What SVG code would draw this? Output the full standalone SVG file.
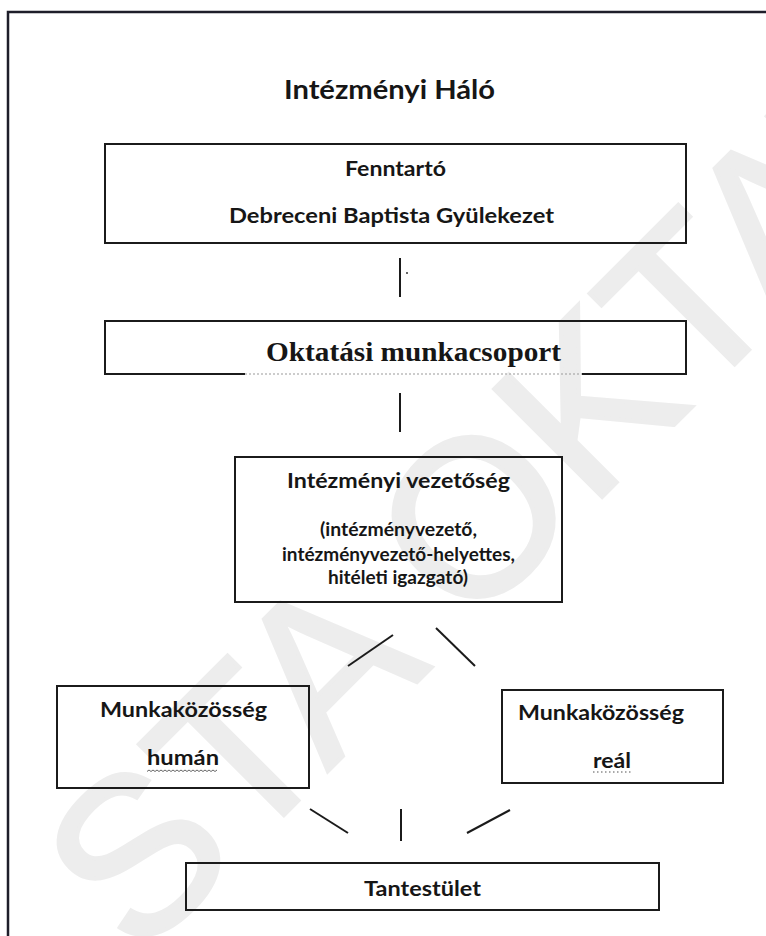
<svg xmlns="http://www.w3.org/2000/svg" width="766" height="936" viewBox="0 0 766 936">
<style>
.bg{fill:#ffffff}
.frame{fill:none;stroke:#1e1e2a;stroke-width:2.5}
.box{fill:none;stroke:#1b1b1b;stroke-width:2}
.edge{stroke:#1b1b1b;stroke-width:2;stroke-linecap:butt}
.t{font-family:Lato,"Liberation Sans",sans-serif;font-weight:700;fill:#161616}
.serif{font-family:"Liberation Serif",serif;font-weight:700;fill:#161616}
.wm{font-family:"Liberation Sans",Arial,sans-serif;font-weight:400;fill:#ededed;stroke:#ededed;stroke-width:4}
</style>
<rect class="bg" x="0" y="0" width="766" height="936"/>
<g id="watermark">
<text class="wm" font-size="222" transform="translate(138.5 960.5) rotate(-45)">STA OKTATA</text>
</g>
<path class="frame" d="M8 936 V12 H766"/>
<g id="title">
<text class="t" x="284" y="99" font-size="26" textLength="211" lengthAdjust="spacingAndGlyphs">Intézményi Háló</text>
</g>
<g id="fenntarto">
<rect class="box" x="105" y="144" width="581" height="99"/>
<text class="t" x="345" y="176" font-size="21.5" textLength="101" lengthAdjust="spacingAndGlyphs">Fenntartó</text>
<text class="t" x="229" y="223" font-size="21.5" textLength="325" lengthAdjust="spacingAndGlyphs">Debreceni Baptista Gyülekezet</text>
</g>
<g id="oktatasi">
<path class="box" d="M245 374 H105 V321 H686 V374 H582"/>
<line x1="245" y1="374" x2="582" y2="374" stroke="#9a9a9a" stroke-width="1.2" stroke-dasharray="2 2"/>
<text class="serif" x="266" y="361" font-size="27" textLength="295" lengthAdjust="spacingAndGlyphs">Oktatási munkacsoport</text>
</g>
<g id="vezetoseg">
<rect class="box" x="235" y="457" width="327" height="145"/>
<text class="t" x="287" y="488" font-size="21.5" textLength="223" lengthAdjust="spacingAndGlyphs">Intézményi vezetőség</text>
<text class="t" x="320" y="536" font-size="18" textLength="157" lengthAdjust="spacingAndGlyphs">(intézményvezető,</text>
<text class="t" x="282" y="561" font-size="18" textLength="233" lengthAdjust="spacingAndGlyphs">intézményvezető-helyettes,</text>
<text class="t" x="328" y="584" font-size="18" textLength="140" lengthAdjust="spacingAndGlyphs">hitéleti igazgató)</text>
</g>
<g id="human">
<rect class="box" x="57" y="686" width="252" height="102"/>
<text class="t" x="100" y="717" font-size="21.5" textLength="167" lengthAdjust="spacingAndGlyphs">Munkaközösség</text>
<text class="t" x="147" y="765" font-size="21.5" textLength="72" lengthAdjust="spacingAndGlyphs">humán</text>
<path d="M147 771.5 l2 -1.5 l2 1.5 l2 -1.5 l2 1.5 l2 -1.5 l2 1.5 l2 -1.5 l2 1.5 l2 -1.5 l2 1.5 l2 -1.5 l2 1.5 l2 -1.5 l2 1.5 l2 -1.5 l2 1.5 l2 -1.5 l2 1.5 l2 -1.5 l2 1.5 l2 -1.5 l2 1.5 l2 -1.5 l2 1.5 l2 -1.5 l2 1.5 l2 -1.5 l2 1.5 l2 -1.5 l2 1.5 l2 -1.5 l2 1.5 l2 -1.5 l2 1.5 l2 -1.5" fill="none" stroke="#555" stroke-width="0.9"/>
</g>
<g id="real">
<rect class="box" x="502" y="690" width="221" height="93"/>
<text class="t" x="518" y="720" font-size="21.5" textLength="166" lengthAdjust="spacingAndGlyphs">Munkaközösség</text>
<text class="t" x="593" y="768" font-size="21.5" textLength="38" lengthAdjust="spacingAndGlyphs">reál</text>
<line x1="593" y1="772" x2="631" y2="772" stroke="#555" stroke-width="1.2" stroke-dasharray="1.5 2.5"/>
</g>
<g id="tantestulet">
<rect class="box" x="186" y="863" width="473" height="47"/>
<text class="t" x="364" y="896" font-size="21.5" textLength="117" lengthAdjust="spacingAndGlyphs">Tantestület</text>
</g>
<g id="connectors">
<line class="edge" x1="400" y1="258" x2="400" y2="297"/>
<circle cx="407" cy="273" r="1" fill="#333"/>
<line class="edge" x1="400" y1="393" x2="400" y2="432"/>
<line class="edge" x1="393" y1="635" x2="348" y2="666"/>
<line class="edge" x1="436" y1="628" x2="475" y2="666"/>
<line class="edge" x1="310" y1="809" x2="348" y2="833"/>
<line class="edge" x1="401" y1="809" x2="401" y2="841"/>
<line class="edge" x1="467" y1="833" x2="510" y2="810"/>
</g>
</svg>
